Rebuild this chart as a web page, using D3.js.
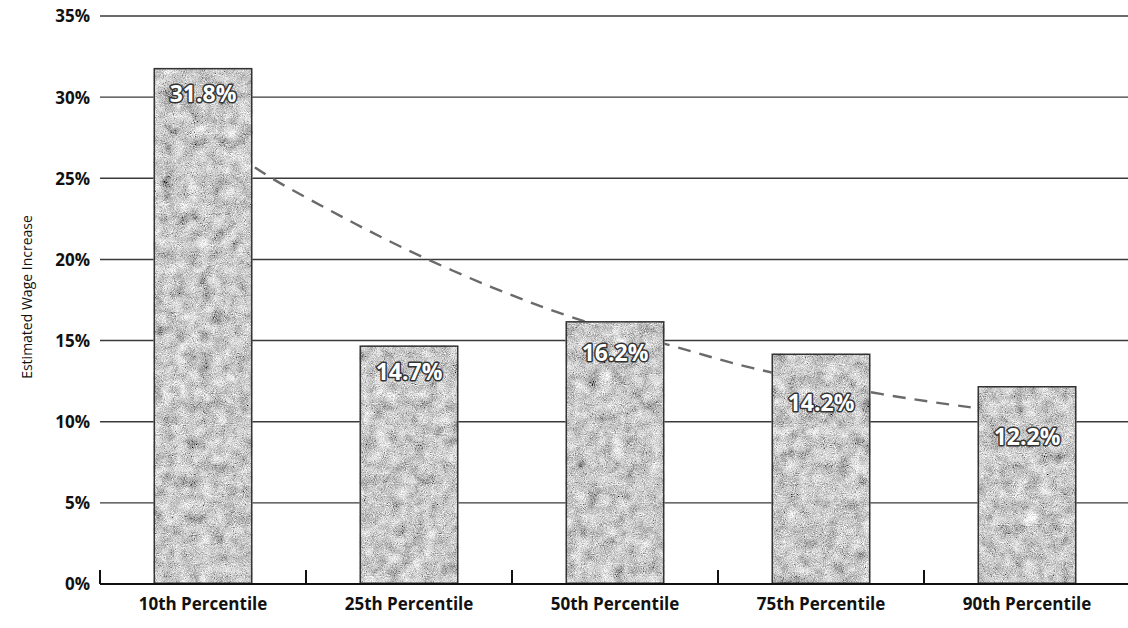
<!DOCTYPE html>
<html>
<head>
<meta charset="utf-8">
<script src="https://cdn.jsdelivr.net/npm/d3@7"></script>
<style>
  html, body { margin: 0; padding: 0; background: #fff; }
  svg { display: block; }
</style>
</head>
<body>
<svg id="chart" width="1128" height="628"></svg>
<script>
// ---- data ----
const categories = ["10th Percentile", "25th Percentile", "50th Percentile", "75th Percentile", "90th Percentile"];
const values = [31.8, 14.7, 16.2, 14.2, 12.2];
const valueLabels = ["31.8%", "14.7%", "16.2%", "14.2%", "12.2%"];
const yTicks = [0, 5, 10, 15, 20, 25, 30, 35];
const yTickLabels = ["0%", "5%", "10%", "15%", "20%", "25%", "30%", "35%"];
const yTitle = "Estimated Wage Increase";
// dashed trend line (category position 1..5, value %)
const trendPos = [1.0, 1.26, 1.62, 1.99, 2.40, 2.80, 3.27, 3.67, 4.25, 4.72, 5.0];
const trendVal = [28.2, 25.6, 23.0, 20.6, 18.3, 16.4, 14.7, 13.3, 11.8, 10.9, 10.5];

// ---- layout / style ----
const W = 1128, H = 628;
const plotLeft = 100, plotRight = 1130, plotTop = 16, plotBottom = 584;
const labelOffsets = [26, 27, 32, 49, 51]; // px from bar top to label centre

const svg = d3.select("#chart");
const defs = svg.append("defs");

// bar texture
const f = defs.append("filter").attr("id", "tex")
  .attr("x", 0).attr("y", 0).attr("width", 1).attr("height", 1)
  .attr("filterUnits", "objectBoundingBox");
f.append("feTurbulence").attr("type", "fractalNoise").attr("baseFrequency", 0.9)
  .attr("numOctaves", 2).attr("seed", 4).attr("result", "fine");
f.append("feTurbulence").attr("type", "fractalNoise").attr("baseFrequency", 0.08)
  .attr("numOctaves", 3).attr("seed", 9).attr("result", "coarse");
f.append("feComposite").attr("in", "fine").attr("in2", "coarse")
  .attr("operator", "arithmetic").attr("k1", 0).attr("k2", 0.6).attr("k3", 0.4).attr("k4", 0)
  .attr("result", "mix");
f.append("feColorMatrix").attr("in", "mix").attr("type", "matrix")
  .attr("values", "1.0 1.0 1.0 0 -0.92  1.0 1.0 1.0 0 -0.92  1.0 1.0 1.0 0 -0.92  0 0 0 0 1")
  .attr("result", "gray");
f.append("feComposite").attr("in", "gray").attr("in2", "SourceGraphic").attr("operator", "in");

const x = d3.scaleBand().domain(categories).range([plotLeft, plotRight])
  .paddingInner(0.52).paddingOuter(0.26);
const y = d3.scaleLinear().domain([0, 35]).range([plotBottom, plotTop]);
const step = x.step();
const xPos = d3.scaleLinear().domain([1, 5])
  .range([x(categories[0]) + x.bandwidth() / 2, x(categories[4]) + x.bandwidth() / 2]);

const labelFont = "'Open Sans', 'DejaVu Sans', sans-serif";

// gridlines
const grid = svg.append("g");
grid.selectAll("line").data(yTicks.filter(d => d > 0)).join("line")
  .attr("x1", plotLeft).attr("x2", W)
  .attr("y1", d => y(d)).attr("y2", d => y(d))
  .attr("stroke", "#3a3a3a").attr("stroke-width", 1.4);

// y axis labels
const yAxis = d3.axisLeft(y).tickValues(yTicks)
  .tickFormat((d, i) => yTickLabels[i]).tickSize(0).tickPadding(10);
const gy = svg.append("g").attr("transform", `translate(${plotLeft},0)`).call(yAxis);
gy.select(".domain").remove();
gy.selectAll("text").attr("font-family", labelFont).attr("font-weight", "bold")
  .attr("font-size", 17).attr("fill", "#111").attr("dy", "0.35em");

// y title
svg.append("text")
  .attr("transform", `translate(32,297) rotate(-90)`)
  .attr("text-anchor", "middle")
  .attr("font-family", labelFont)
  .attr("font-size", 14).attr("fill", "#111")
  .text(yTitle);

// trend line (behind bars)
const line = d3.line().x(d => xPos(d[0])).y(d => y(d[1])).curve(d3.curveCatmullRom);
svg.append("path")
  .datum(trendPos.map((p, i) => [p, trendVal[i]]))
  .attr("d", line).attr("fill", "none")
  .attr("stroke", "#6a6a6a").attr("stroke-width", 2.4).attr("stroke-dasharray", "13 9");

// bars
const bars = svg.append("g");
bars.selectAll("rect.b").data(values).join("rect").attr("class", "b")
  .attr("x", (d, i) => x(categories[i]))
  .attr("y", d => y(d))
  .attr("width", x.bandwidth())
  .attr("height", d => y(0) - y(d))
  .attr("fill", "#999")
  .attr("filter", "url(#tex)");
bars.selectAll("rect.o").data(values).join("rect").attr("class", "o")
  .attr("x", (d, i) => x(categories[i]) + 0.75)
  .attr("y", d => y(d) + 0.75)
  .attr("width", x.bandwidth() - 1.5)
  .attr("height", d => y(0) - y(d) - 1.5)
  .attr("fill", "none").attr("stroke", "#333").attr("stroke-width", 1.5);

// value labels
svg.append("g").selectAll("text").data(values).join("text")
  .attr("x", (d, i) => x(categories[i]) + x.bandwidth() / 2)
  .attr("y", (d, i) => y(d) + labelOffsets[i])
  .attr("dy", "0.35em")
  .attr("text-anchor", "middle")
  .attr("font-family", labelFont).attr("font-weight", "bold").attr("font-size", 23)
  .attr("fill", "#fff").attr("stroke", "#333").attr("stroke-width", 3)
  .attr("paint-order", "stroke").attr("stroke-linejoin", "round")
  .text((d, i) => valueLabels[i]);

// x axis baseline + ticks
svg.append("line").attr("x1", plotLeft).attr("x2", W)
  .attr("y1", y(0)).attr("y2", y(0)).attr("stroke", "#111").attr("stroke-width", 2);
const boundaries = categories.map(c => x(c) - (step - x.bandwidth()) / 2);
svg.append("g").selectAll("line").data(boundaries).join("line")
  .attr("x1", d => d).attr("x2", d => d)
  .attr("y1", y(0)).attr("y2", y(0) - 14)
  .attr("stroke", "#111").attr("stroke-width", 2);

// category labels
const xAxis = d3.axisBottom(x).tickSize(0).tickPadding(14);
const gx = svg.append("g").attr("transform", `translate(0,${plotBottom})`).call(xAxis);
gx.select(".domain").remove();
gx.selectAll("text").attr("font-family", labelFont).attr("font-weight", "bold")
  .attr("font-size", 17).attr("fill", "#111");
</script>
</body>
</html>
